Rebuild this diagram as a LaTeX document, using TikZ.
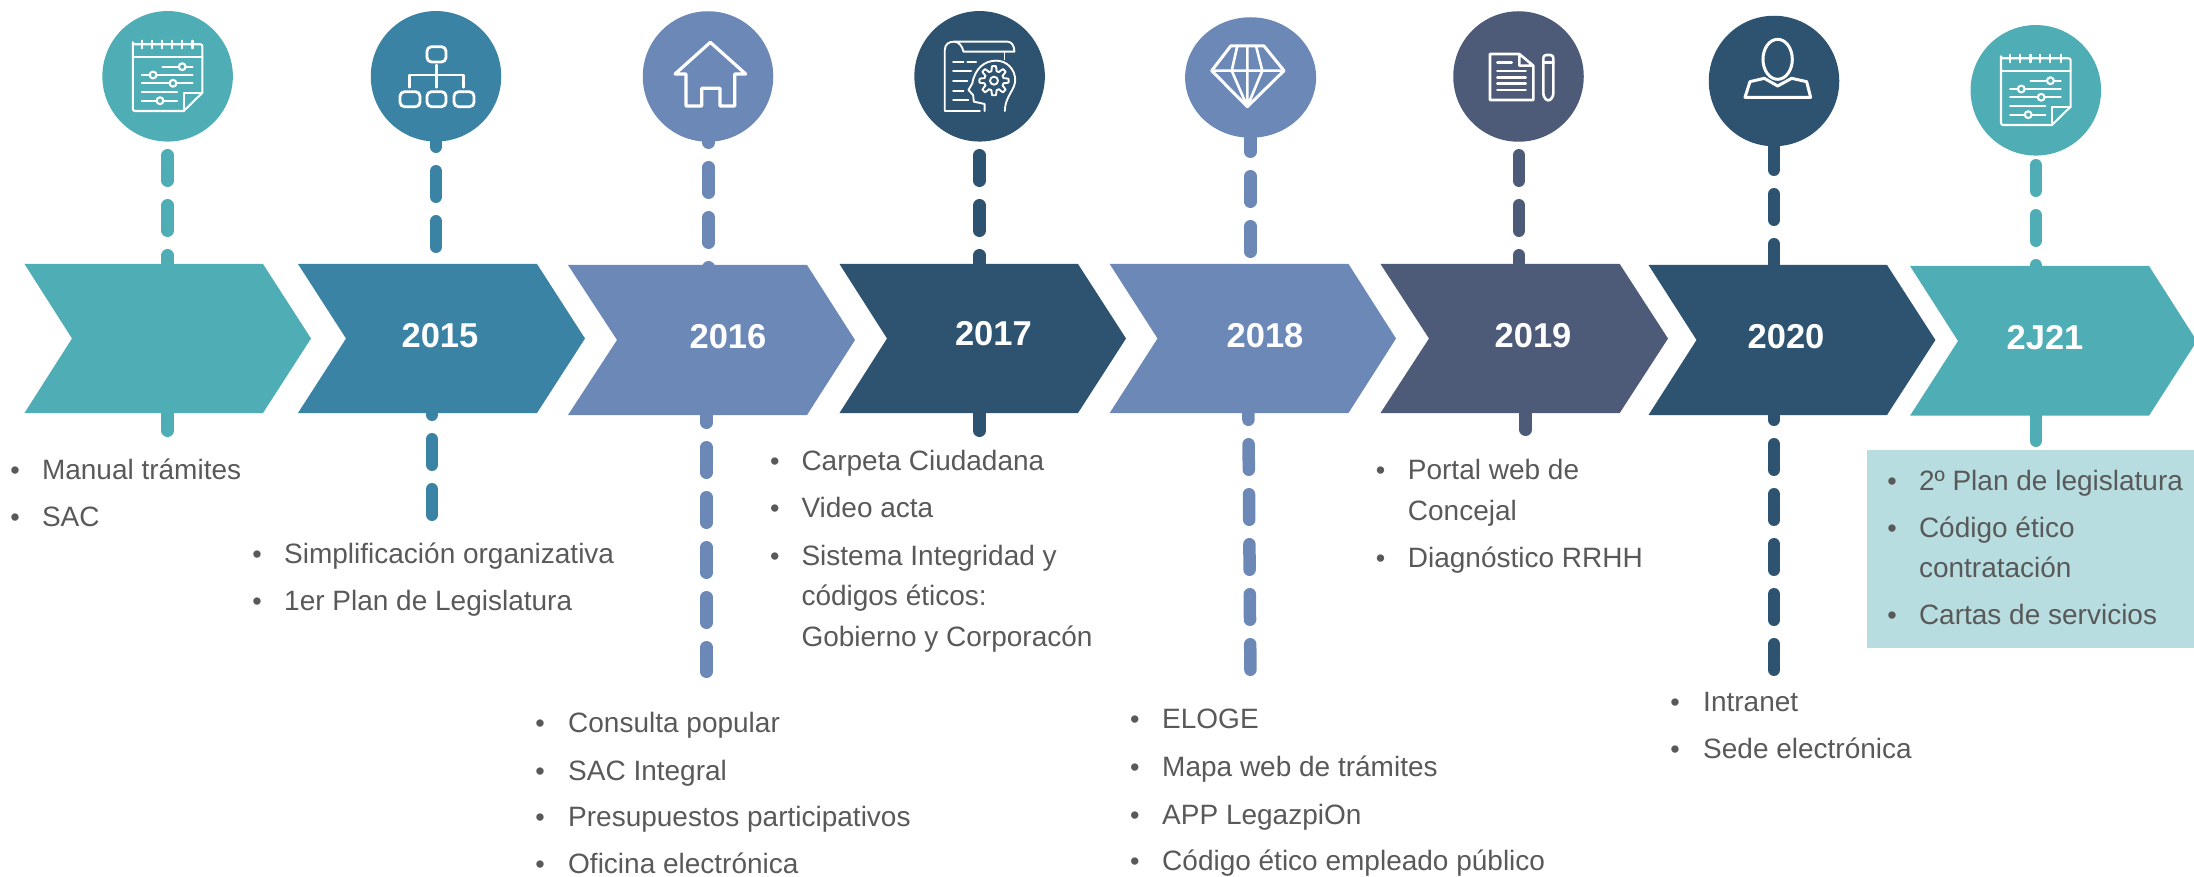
\documentclass[tikz,border=0pt]{standalone}
\usepackage{fontspec}
\setmainfont{Liberation Sans}
\usetikzlibrary{shapes.geometric}
\definecolor{cteal}{HTML}{4FADB5}
\definecolor{cblue}{HTML}{3A83A4}
\definecolor{cperi}{HTML}{6C88B7}
\definecolor{cnavy}{HTML}{2D5370}
\definecolor{cslate}{HTML}{4D5B78}
\definecolor{cbox}{HTML}{B7DDE0}
\definecolor{ctext}{HTML}{595959}
\tikzset{
  x=1pt,y=-1pt,
  dashline/.style={line width=12.5pt,line cap=round,dash pattern=on 25.5pt off 24.5pt},
  disc/.style={circle,minimum size=130.5pt,inner sep=0pt,fill=#1},
  yearlabel/.style={text=white,inner sep=0pt,font=\fontsize{34.5}{36}\selectfont\bfseries},
  listtext/.style={anchor=base west,inner sep=0pt,text=ctext,font=\fontsize{28}{30}\selectfont},
  listdot/.style={anchor=base,inner sep=0pt,text=ctext,font=\fontsize{27}{30}\selectfont},
  icon/.style={draw=white,line width=2.1pt,line cap=round,line join=round},
  calendar/.pic={
    \draw[icon] (-34.8,-28) -- (-34.8,33) arc[start angle=180,end angle=90,radius=2] -- (16.1,35) -- (34.8,16.7) -- (34.8,-29.7) arc[start angle=0,end angle=-90,radius=2] -- (-32.8,-31.7) arc[start angle=90,end angle=180,radius=2] -- cycle;
    \draw[icon] (-34.8,-19.3) -- (34.8,-19.3) (16.1,35) -- (16.1,16.7) -- (34.8,16.7);
    \foreach \t in {-25.6,-15.6,-5.3,4.6,14.6,24.9} \draw[icon] (\t,-35.3) -- (\t,-27.7);
    \draw[icon] (-5.3,-9.3) -- (24.9,-9.3) (-25.6,-1) -- (24.9,-1) (-25.6,7.3) -- (24.9,7.3) (-25.6,16) -- (9.6,16) (-25.6,24.7) -- (9.6,24.7);
    \foreach \a/\b in {14.6/-9.3,-14.5/-1,5.4/7.3,-7.6/24.7}
      \filldraw[icon,fill=#1] (\a,\b) circle[radius=3.4];
  }
}
\newcommand{\chev}[8]{% name colour x0 notch shoulder tip top bottom
  \fill[#2] (#3,#7) -- (#5,#7) -- (#6,{(#7+#8)/2}) -- (#5,#8) -- (#3,#8) -- (#4,{(#7+#8)/2}) -- cycle;
}
\newcommand{\bul}[5]{% name dot-x text-x baseline text
  \node[listdot] (#1d) at (#2,#4) {•};
  \node[listtext] (#1) at (#3,#4) {#5};
}
\newcommand{\more}[4]{\node[listtext] (#1) at (#2,#3) {#4};}
\newcommand{\dashes}[7]{% colour name x1 y1 x2 y2
  \coordinate (#2a) at (#3,#4);
  \coordinate (#2b) at (#5,#6);
  \draw[dashline,#1] (#2a) -- (#2b);
}
\begin{document}
\begin{tikzpicture}
\useasboundingbox (0,0) rectangle (2194,877);
% connectors
\dashes{cteal}{la}{167.6}{155.25}{167.6}{430.75}{}
\dashes{cblue}{lb}{436}{121.25}{436}{296}{}
\dashes{cblue}{lbb}{432}{389.25}{432}{514.75}{}
\dashes{cperi}{lc}{708.7}{117.25}{708.7}{300}{}
\dashes{cperi}{lcc}{706.5}{397.25}{706.5}{671.75}{}
\dashes{cnavy}{ld}{979.5}{155.25}{979.5}{430.75}{}
\dashes{cperi}{le}{1250.5}{126.25}{1250.5}{300}{}
\dashes{cperi}{lee}{1248.2}{394.25}{1250.4}{669.75}{}
\dashes{cslate}{lf}{1519}{155.25}{1519}{290}{}
\dashes{cslate}{lff}{1525.6}{404.25}{1525.6}{429.75}{}
\dashes{cnavy}{lg}{1774}{144.25}{1774}{669.75}{}
\dashes{cteal}{lh}{2035.8}{165.25}{2035.8}{440.75}{}
% chevrons
\chev{c1}{cteal}{24.5}{72}{263}{311}{264}{413}
\chev{c2}{cblue}{298}{346}{537}{585}{264}{413}
\chev{c3}{cperi}{568}{617}{807}{855}{265}{415}
\chev{c4}{cnavy}{839.5}{887}{1078}{1126}{264}{413}
\chev{c5}{cperi}{1109.7}{1157.5}{1348.5}{1396}{264}{413}
\chev{c6}{cslate}{1380.5}{1429}{1619.7}{1668}{264}{413}
\chev{c7}{cnavy}{1648.5}{1696.5}{1887}{1935.4}{265}{415}
\fill[cteal] (1910,266) -- (2149,266) -- (2194,336.5) -- (2194,345.5) -- (2149,415.7) -- (1910,415.7) -- (1958,341) -- cycle;
% year labels
\node[yearlabel] (y15) at (440,336) {2015};
\node[yearlabel] (y16) at (728,337) {2016};
\node[yearlabel] (y17) at (993.4,334) {2017};
\node[yearlabel] (y18) at (1265,336) {2018};
\node[yearlabel] (y19) at (1533,336) {2019};
\node[yearlabel] (y20) at (1786,337) {2020};
\node[yearlabel] (y21) at (2045,338) {2J21};
% discs
\node[disc=cteal] (d1) at (167.6,76.3) {};
\node[disc=cblue] (d2) at (436,76.3) {};
\node[disc=cperi] (d3) at (708,76.5) {};
\node[disc=cnavy] (d4) at (979.6,76.3) {};
\node[ellipse,minimum width=131pt,minimum height=120.5pt,inner sep=0pt,fill=cperi] (d5) at (1250.6,77.5) {};
\node[disc=cslate] (d6) at (1518.5,76.5) {};
\node[disc=cnavy] (d7) at (1774,81) {};
\node[disc=cteal] (d8) at (2035.8,90.3) {};
% icons
\pic at (167.6,76) {calendar=cteal};
\pic at (2035.8,90) {calendar=cteal};
% org chart
\begin{scope}[every path/.style={icon,line width=2.8pt}]
\draw[rounded corners=4.5pt] (427,46.7) rectangle (446,62);
\draw[rounded corners=4.5pt] (400,91.7) rectangle (420,106.7);
\draw[rounded corners=4.5pt] (427,91.7) rectangle (446,106.7);
\draw[rounded corners=4.5pt] (454,91.7) rectangle (474,106.7);
\draw (436.7,65) -- (436.7,87.3) (409.5,87.3) -- (409.5,75) -- (463.8,75) -- (463.8,87.3);
\end{scope}
% house
\draw[icon,line width=3.2pt] (675,74) -- (710.3,42.3) -- (745.7,74) -- (734.7,74) -- (734.7,106) -- (720,106) -- (720,88.3) -- (701.7,88.3) -- (701.7,106) -- (686,106) -- (686,74) -- cycle;
% scroll and head
\begin{scope}[shift={(820,0)},x=0.3827pt,y=-0.3333pt]
\draw[icon,line width=1.9pt] (418,333) -- (326,333) -- (326,150) .. controls (326,132) and (338,125) .. (350,125) -- (490,125) .. controls (502,125) and (508,140) .. (508,155) -- (375,155) .. controls (372,140) and (364,125) .. (350,125);
\draw[icon,line width=1.9pt] (482,155) -- (482,178);
\draw[icon,line width=1.9pt] (348,185) -- (375,185) (385,185) -- (408,185) (348,213) -- (395,213) (348,243) -- (385,243) (348,272) -- (375,272) (348,301) -- (388,301);
\draw[icon,line width=1.9pt] (430,333) -- (430,312) -- (402,305) -- (400,285) -- (388,270) -- (398,250) .. controls (405,205) and (430,182) .. (460,182) .. controls (490,182) and (510,210) .. (510,240) .. controls (510,270) and (483,290) .. (483,333);
\end{scope}
\draw[icon,line width=1.9pt,shift={(994,80.7)}] plot[samples=97,domain=0:360] (\x:{12.2+2.4*max(-1,min(1,3*cos(8*\x)))}) -- cycle;
\draw[icon,line width=1.9pt] (994,80.7) circle[radius=4];
% diamond
\draw[icon,line width=3pt] (1230.7,46) -- (1264,46) -- (1284,70.7) -- (1247.3,106.7) -- (1211.7,70.7) -- cycle;
\draw[icon,line width=2.6pt] (1211.7,70.7) -- (1284,70.7) (1237.3,46) -- (1231.7,70.7) -- (1247.3,106.7) -- (1262.3,70.7) -- (1256,46) (1247.3,46) -- (1247.3,106.7);
% document and pencil
\begin{scope}[shift={(1420,0)},x=0.3333pt,y=-0.3333pt]
\draw[icon,line width=2.6pt] (298,162) -- (210,162) -- (210,300) -- (340,300) -- (340,197) -- (298,162) -- (298,197) -- (340,197);
\draw[icon,line width=2.6pt] (232,188) -- (275,188) (232,213) -- (317,213) (232,232) -- (317,232) (232,251) -- (317,251) (232,270) -- (317,270);
\draw[icon,line width=2.6pt,rounded corners=3pt] (370,290) -- (370,165) -- (400,165) -- (400,290) -- (385,305) -- cycle;
\draw[icon,line width=2.6pt] (370,187) -- (400,187);
\end{scope}
% person
\begin{scope}[shift={(1420,0)},x=0.3333pt,y=-0.3333pt]
\draw[icon,line width=3pt] (1073,178) ellipse[x radius=44,y radius=60];
\draw[icon,line width=3pt] (975,292) -- (990,245) -- (1033,235) -- (1073,258) -- (1115,235) -- (1160,245) -- (1172,292) -- cycle;
\end{scope}
% lists
\bul{a1}{15}{41.8}{479}{Manual trámites}
\bul{a2}{15}{41.8}{526.5}{SAC}
\bul{b1}{257}{284}{563}{Simplificación organizativa}
\bul{b2}{257}{284}{610.7}{1er Plan de Legislatura}
\bul{e1}{540}{568}{732.7}{Consulta popular}
\bul{e2}{540}{568}{780}{SAC Integral}
\bul{e3}{540}{568}{826.7}{Presupuestos participativos}
\bul{e4}{540}{568}{873.3}{Oficina electrónica}
\bul{f1}{774.8}{801.3}{470.7}{Carpeta Ciudadana}
\bul{f2}{774.8}{801.3}{517.3}{Video acta}
\bul{f3}{774.8}{801.3}{565.7}{Sistema Integridad y}
\more{f4}{801.3}{605.7}{códigos éticos:}
\more{f5}{801.3}{646.7}{Gobierno y Corporacón}
\bul{g1}{1134.8}{1162}{728.3}{ELOGE}
\bul{g2}{1134.8}{1162}{776.7}{Mapa web de trámites}
\bul{g3}{1134.8}{1162}{824}{APP LegazpiOn}
\bul{g4}{1134.8}{1162}{870.7}{Código ético empleado público}
\bul{h1}{1380.5}{1407.7}{479.3}{Portal web de}
\more{h2}{1407.7}{520.7}{Concejal}
\bul{h3}{1380.5}{1407.7}{567.3}{Diagnóstico RRHH}
\bul{i1}{1675}{1703}{711}{Intranet}
\bul{i2}{1675}{1703}{758}{Sede electrónica}
\fill[cbox] (1867,450) rectangle (2194,647.7);
\bul{j1}{1892}{1918.8}{490}{2º Plan de legislatura}
\bul{j2}{1892}{1918.8}{537.3}{Código ético}
\more{j3}{1918.8}{577.3}{contratación}
\bul{j4}{1892}{1918.8}{624.7}{Cartas de servicios}
\end{tikzpicture}
\end{document}
